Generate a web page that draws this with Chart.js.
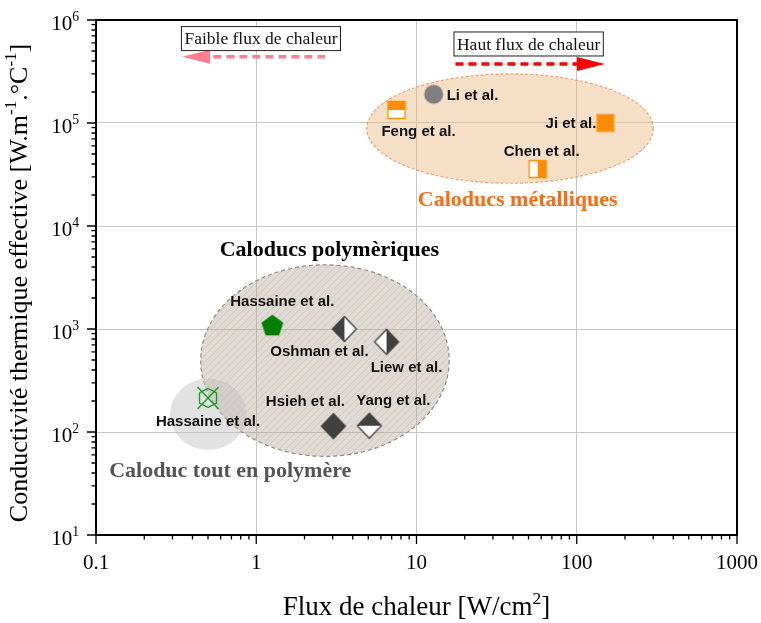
<!DOCTYPE html>
<html>
<head>
<meta charset="utf-8">
<script src="https://cdn.jsdelivr.net/npm/chart.js@4.4.1/dist/chart.umd.min.js"></script>
<style>
  html, body { margin: 0; padding: 0; background: #fff; }
  #chart { display: block; }
</style>
</head>
<body>
<canvas id="chart" width="761" height="623"></canvas>
<script>
// data
const studies = ['Li et al.', 'Feng et al.', 'Ji et al.', 'Chen et al.', 'Hassaine et al.',
                 'Oshman et al.', 'Liew et al.', 'Hsieh et al.', 'Yang et al.', 'Hassaine et al.'];
const heatFlux = [12.8, 7.5, 151, 57, 1.26, 3.55, 6.5, 3.03, 5.08, 0.5];
const conductivity = [190000, 134000, 100000, 35700, 1090, 1000, 750, 114, 115, 214];

// grouping ellipses (flux range, conductivity range)
const groups = ['Caloducs métalliques', 'Caloducs polymèriques', 'Caloduc tout en polymère'];
const groupFluxMin = [4.9, 0.45, 0.29];
const groupFluxMax = [300, 16, 0.87];
const groupCondMin = [26000, 58, 67];
const groupCondMax = [300000, 4200, 330];

const xTicks = [0.1, 1, 10, 100, 1000];
const yTicks = [10, 100, 1000, 10000, 100000, 1000000];
const arrowTexts = ['Faible flux de chaleur', 'Haut flux de chaleur'];

const SERIF = "'Liberation Serif', 'Times New Roman', serif";
const SANS = "'Liberation Sans', Arial, sans-serif";

// marker look per study
const markerKinds = ['circle', 'sqTop', 'sqFull', 'sqRight', 'pentagon',
                     'dmLeft', 'dmRight', 'dmFull', 'dmTop', 'cross'];
// label placement relative to marker: dx, dy, align
const labelPlace = [[13, 2, 'left'], [22, 22, 'center'], [-9, 1, 'right'], [4, -17, 'center'],
                    [10, -23, 'center'], [-25, 23, 'center'], [20, 26, 'center'],
                    [-28, -24, 'center'], [24, -25, 'center'], [0, 24, 'center']];

const ORANGE = '#ff8c00';
const DARK = '#404040';

function makeMarker(kind) {
  const s = 30;
  const c = document.createElement('canvas');
  c.width = s; c.height = s;
  const g = c.getContext('2d');
  g.translate(s / 2, s / 2);

  function halfShape(path, color, clipRect, stroke) {
    g.save();
    path(); g.fillStyle = '#fff'; g.fill();
    path(); g.clip();
    g.fillStyle = color;
    g.fillRect(clipRect[0], clipRect[1], clipRect[2], clipRect[3]);
    g.restore();
    path(); g.strokeStyle = stroke; g.lineWidth = 1.3; g.stroke();
  }
  const sq = () => { g.beginPath(); g.rect(-8.5, -8.5, 17, 17); };
  const dm = () => {
    g.beginPath();
    g.moveTo(0, -12.5); g.lineTo(12, 0); g.lineTo(0, 12.5); g.lineTo(-12, 0); g.closePath();
  };

  if (kind === 'circle') {
    g.beginPath(); g.arc(0, 0, 9.5, 0, Math.PI * 2);
    g.fillStyle = '#808080'; g.fill();
  } else if (kind === 'sqTop') {
    halfShape(sq, ORANGE, [-10, -10, 20, 10], ORANGE);
  } else if (kind === 'sqFull') {
    halfShape(sq, ORANGE, [-10, -10, 20, 20], '#ffa030');
  } else if (kind === 'sqRight') {
    halfShape(sq, ORANGE, [0, -10, 10, 20], ORANGE);
  } else if (kind === 'pentagon') {
    g.beginPath();
    for (let k = 0; k < 5; k++) {
      const a = -Math.PI / 2 + k * 2 * Math.PI / 5;
      const px = 11.5 * Math.cos(a), py = 11.5 * Math.sin(a) + 1;
      k ? g.lineTo(px, py) : g.moveTo(px, py);
    }
    g.closePath(); g.fillStyle = '#008000'; g.fill();
  } else if (kind === 'dmLeft') {
    halfShape(dm, DARK, [-13, -13, 13, 26], DARK);
  } else if (kind === 'dmRight') {
    halfShape(dm, DARK, [0, -13, 13, 26], DARK);
  } else if (kind === 'dmFull') {
    halfShape(dm, DARK, [-13, -13, 26, 26], DARK);
  } else if (kind === 'dmTop') {
    halfShape(dm, DARK, [-13, -13, 26, 13], DARK);
  } else if (kind === 'cross') {
    g.strokeStyle = '#159a15'; g.lineWidth = 1.3;
    g.beginPath();
    g.moveTo(0, -9.5); g.lineTo(8.5, -5); g.lineTo(8.5, 5); g.lineTo(0, 9.5);
    g.lineTo(-8.5, 5); g.lineTo(-8.5, -5); g.closePath();
    g.moveTo(-10.5, -11); g.lineTo(10.5, 11);
    g.moveTo(10.5, -11); g.lineTo(-10.5, 11);
    g.stroke();
  }
  return c;
}

// hatch pattern for the polymer region
function makeHatch() {
  const c = document.createElement('canvas');
  c.width = 7; c.height = 7;
  const g = c.getContext('2d');
  g.strokeStyle = 'rgba(235,175,105,0.5)';
  g.lineWidth = 1;
  g.beginPath();
  g.moveTo(-1, 8); g.lineTo(8, -1);
  g.moveTo(-1, 1); g.lineTo(1, -1);
  g.moveTo(6, 8); g.lineTo(8, 6);
  g.stroke();
  return c;
}

function drawRich(ctx, parts, x, y, size, align) {
  // parts: [text, isSup]
  let w = 0;
  parts.forEach(p => {
    ctx.font = (p[1] ? size * 0.65 : size) + 'px ' + SERIF;
    w += ctx.measureText(p[0]).width;
  });
  let cx = align === 'right' ? x - w : x - w / 2;
  ctx.textAlign = 'left';
  ctx.textBaseline = 'alphabetic';
  parts.forEach(p => {
    ctx.font = (p[1] ? size * 0.65 : size) + 'px ' + SERIF;
    ctx.fillText(p[0], cx, p[1] ? y - size * 0.42 : y);
    cx += ctx.measureText(p[0]).width;
  });
}

const regionPlugin = {
  id: 'regions',
  beforeDatasetsDraw(chart) {
    const { ctx, scales: { x, y } } = chart;
    const styles = [
      { fill: 'rgba(235,185,130,0.45)', stroke: 'rgba(245,140,80,0.8)', dash: [3, 2] },
      { fill: 'rgba(165,160,155,0.38)', hatch: true, stroke: '#8c8c8c', dash: [4, 3] },
      { fill: 'rgba(190,190,190,0.45)', stroke: null }
    ];
    groups.forEach((name, i) => {
      const x0 = x.getPixelForValue(groupFluxMin[i]);
      const x1 = x.getPixelForValue(groupFluxMax[i]);
      const y0 = y.getPixelForValue(groupCondMax[i]);
      const y1 = y.getPixelForValue(groupCondMin[i]);
      const st = styles[i];
      ctx.save();
      ctx.beginPath();
      ctx.ellipse((x0 + x1) / 2, (y0 + y1) / 2, (x1 - x0) / 2, (y1 - y0) / 2, 0, 0, Math.PI * 2);
      ctx.fillStyle = st.fill;
      ctx.fill();
      if (st.hatch) {
        ctx.fillStyle = ctx.createPattern(makeHatch(), 'repeat');
        ctx.fill();
      }
      if (st.stroke) {
        ctx.setLineDash(st.dash);
        ctx.lineWidth = 1.2;
        ctx.strokeStyle = st.stroke;
        ctx.stroke();
      }
      ctx.restore();
    });
  },
  afterDatasetsDraw(chart) {
    const { ctx, scales: { x, y } } = chart;
    ctx.save();
    // study labels
    ctx.font = 'bold 15px ' + SANS;
    ctx.fillStyle = '#111';
    ctx.textBaseline = 'middle';
    chart.data.datasets.forEach((ds, i) => {
      const pt = chart.getDatasetMeta(i).data[0];
      const p = labelPlace[i];
      ctx.textAlign = p[2];
      ctx.fillText(ds.label, pt.x + p[0], pt.y + p[1]);
    });

    // group titles
    const titleColors = ['#ff6a10', '#000', '#555'];
    const titleAt = [[42.8, 17900], [2.86, 5850], [0.688, 41.8]];
    ctx.font = 'bold 22px ' + SERIF;
    ctx.textAlign = 'center';
    groups.forEach((name, i) => {
      ctx.fillStyle = titleColors[i];
      ctx.fillText(name, x.getPixelForValue(titleAt[i][0]), y.getPixelForValue(titleAt[i][1]));
    });

    // heat flux arrows with boxed captions
    const arrows = [
      { from: 2.7, to: 0.345, at: 440000, color: '#ff7f90', box: [1.07, 660000] },
      { from: 17.5, to: 150, at: 374000, color: '#ff0000', box: [50.1, 585000] }
    ];
    arrows.forEach((a, i) => {
      const xa = x.getPixelForValue(a.from), xb = x.getPixelForValue(a.to);
      const ya = y.getPixelForValue(a.at);
      const dir = Math.sign(xb - xa);
      const headLen = 28;
      ctx.strokeStyle = a.color;
      ctx.lineWidth = 3.5;
      ctx.setLineDash([8, 5]);
      ctx.beginPath();
      ctx.moveTo(xa, ya); ctx.lineTo(xb - dir * headLen, ya);
      ctx.stroke();
      ctx.setLineDash([]);
      ctx.fillStyle = a.color;
      ctx.beginPath();
      ctx.moveTo(xb, ya);
      ctx.lineTo(xb - dir * headLen, ya - 7);
      ctx.lineTo(xb - dir * headLen, ya + 7);
      ctx.closePath(); ctx.fill();

      ctx.font = '17.5px ' + SERIF;
      const bx = x.getPixelForValue(a.box[0]), by = y.getPixelForValue(a.box[1]);
      const tw = ctx.measureText(arrowTexts[i]).width;
      ctx.fillStyle = '#fff';
      ctx.fillRect(bx - tw / 2 - 3, by - 12, tw + 6, 24);
      ctx.strokeStyle = '#222';
      ctx.lineWidth = 1;
      ctx.strokeRect(bx - tw / 2 - 3, by - 12, tw + 6, 24);
      ctx.fillStyle = '#111';
      ctx.textAlign = 'center';
      ctx.textBaseline = 'middle';
      ctx.fillText(arrowTexts[i], bx, by + 1);
    });
    ctx.restore();
  },
  afterDraw(chart) {
    const { ctx, chartArea: ca, scales: { x, y } } = chart;
    ctx.save();
    ctx.strokeStyle = '#000';
    // minor/major ticks
    ctx.lineWidth = 1.3;
    ctx.beginPath();
    xTicks.forEach((d, i) => {
      const px = x.getPixelForValue(d);
      ctx.moveTo(px, ca.bottom); ctx.lineTo(px, ca.bottom + 9);
      if (i < xTicks.length - 1) {
        for (let m = 2; m < 10; m++) {
          const mx = x.getPixelForValue(d * m);
          ctx.moveTo(mx, ca.bottom); ctx.lineTo(mx, ca.bottom + 4.5);
        }
      }
    });
    yTicks.forEach((d, i) => {
      const py = y.getPixelForValue(d);
      ctx.moveTo(ca.left, py); ctx.lineTo(ca.left - 9, py);
      if (i < yTicks.length - 1) {
        for (let m = 2; m < 10; m++) {
          const my = y.getPixelForValue(d * m);
          ctx.moveTo(ca.left, my); ctx.lineTo(ca.left - 4.5, my);
        }
      }
    });
    ctx.stroke();

    // frame
    ctx.lineWidth = 2;
    ctx.strokeRect(ca.left, ca.top, ca.right - ca.left, ca.bottom - ca.top);

    // tick labels
    ctx.fillStyle = '#000';
    ctx.font = '21px ' + SERIF;
    ctx.textAlign = 'center';
    ctx.textBaseline = 'middle';
    xTicks.forEach(d => {
      ctx.fillText(String(d), x.getPixelForValue(d), ca.bottom + 28);
    });
    yTicks.forEach(d => {
      const exp = Math.round(Math.log10(d));
      drawRich(ctx, [['10', false], [String(exp), true]], 79, y.getPixelForValue(d) + 10, 21, 'right');
    });

    // axis titles
    drawRich(ctx, [['Flux de chaleur [W/cm', false], ['2', true], [']', false]],
             (ca.left + ca.right) / 2, 615, 27, 'center');
    ctx.translate(27, 283);
    ctx.rotate(-Math.PI / 2);
    drawRich(ctx, [['Conductivité thermique effective [W.m', false], ['-1', true],
                   ['.°C', false], ['-1', true], [']', false]], 0, 0, 26, 'center');
    ctx.restore();
  }
};

const datasets = studies.map((name, i) => ({
  label: name,
  data: [{ x: heatFlux[i], y: conductivity[i] }],
  pointStyle: makeMarker(markerKinds[i]),
  pointRadius: 12,
  pointHoverRadius: 12
}));

new Chart(document.getElementById('chart'), {
  type: 'scatter',
  data: { datasets },
  options: {
    responsive: false,
    animation: false,
    events: [],
    layout: { padding: { left: 0, right: 24, top: 20, bottom: 0 } },
    plugins: { legend: { display: false }, tooltip: { enabled: false } },
    scales: {
      x: {
        type: 'logarithmic',
        min: 0.1, max: 1000,
        afterBuildTicks: s => { s.ticks = xTicks.map(v => ({ value: v })); },
        afterFit: s => { s.height = 88; },
        ticks: { display: false },
        border: { display: false },
        grid: { color: '#c8c8c8', lineWidth: 1, drawTicks: false }
      },
      y: {
        type: 'logarithmic',
        min: 10, max: 1000000,
        afterBuildTicks: s => { s.ticks = yTicks.map(v => ({ value: v })); },
        afterFit: s => { s.width = 96; },
        ticks: { display: false },
        border: { display: false },
        grid: { color: '#c8c8c8', lineWidth: 1, drawTicks: false }
      }
    }
  },
  plugins: [regionPlugin]
});
</script>
</body>
</html>
